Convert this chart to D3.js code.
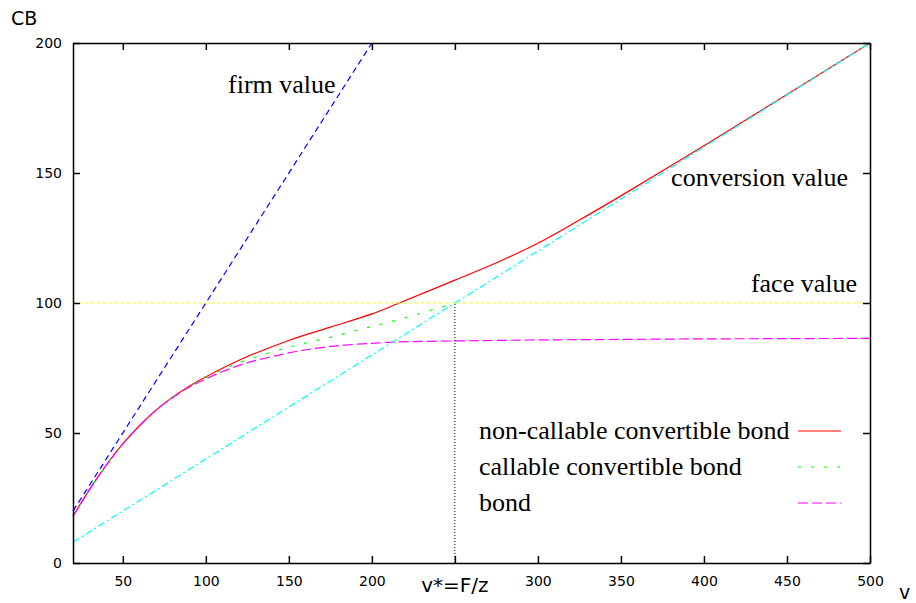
<!DOCTYPE html>
<head>
    <meta charset="utf-8">
    <script src="https://d3js.org/d3.v7.min.js"></script>
    <style>
      body { margin: 0; background: #fff; }
      .tick text { font-family: "DejaVu Sans"; font-size: 14px; fill: #000; }
      .serif { font-family: "Liberation Serif", "Times New Roman", serif; font-size: 26px; fill: #000; }
      .sans { font-family: "DejaVu Sans"; fill: #000; }
    </style>
<body>
    <script>
        var svg_w = 916, svg_h = 603
        var margin = {left: 73, right: 46, top: 43, bottom: 40}

        // data
        var vGrid     = [20, 30, 40, 50, 60, 70, 80, 90, 100, 120, 150, 175, 200, 215, 250, 275, 300, 325, 350, 400, 450, 500]
        var nonCall   = [18, 28.3, 37.6, 45.8, 52.8, 58.8, 63.8, 68, 71.6, 78, 85.6, 90.7, 95.8, 99.6, 108.8, 115.5, 123, 131.9, 141.2, 160.5, 180.2, 200]
        var bondVals  = [18, 28.3, 37.6, 45.8, 52.8, 58.8, 63.6, 67.6, 70.8, 76, 80.8, 83.3, 84.5, 85, 85.4, 85.6, 85.8, 85.9, 86, 86.2, 86.3, 86.4]
        var vCall     = [20, 30, 40, 50, 60, 70, 80, 90, 100, 120, 150, 175, 200, 215, 250]
        var callVals  = [18, 28.3, 37.6, 45.8, 52.8, 58.8, 63.8, 67.9, 71.3, 77, 83, 86.8, 91, 93.4, 100]
        var firmV     = [20, 200]
        var firmVals  = [20, 200]
        var convV     = [20, 500]
        var convVals  = [8, 200]
        var faceV     = [20, 500]
        var faceVals  = [100, 100]
        var vStar = 250, faceValue = 100

        var xTicks = [50, 100, 150, 200, 250, 300, 350, 400, 450, 500]
        var yTicks = [0, 50, 100, 150, 200]

        var svg = d3.select("body").append("svg")
          .attr("width", svg_w).attr("height", svg_h)

        var x = d3.scaleLinear().domain([20, 500]).range([margin.left, svg_w - margin.right])
        var y = d3.scaleLinear().domain([0, 200]).range([svg_h - margin.bottom, margin.top])

        function zip(xs, ys) { return xs.map(function(d, i) { return [d, ys[i]] }) }
        var line = d3.line().x(function(d){return x(d[0])}).y(function(d){return y(d[1])})
        var smooth = d3.line().x(function(d){return x(d[0])}).y(function(d){return y(d[1])}).curve(d3.curveCatmullRom.alpha(0.5))

        var series = [
          {pts: zip(vGrid, nonCall), color: "#ff0000", dash: null, gen: smooth},
          {pts: zip(vCall, callVals), color: "#00ff00", dash: "3,10", gen: smooth},
          {pts: zip(vGrid, bondVals), color: "#ff00ff", dash: "10,4", gen: smooth},
          {pts: zip(firmV, firmVals), color: "#0000ff", dash: "6,4", gen: line},
          {pts: zip(convV, convVals), color: "#00ffff", dash: "7,3,2,3", gen: line},
          {pts: zip(faceV, faceVals), color: "#ffff00", dash: "3.5,2.5", gen: line}
        ]
        series.forEach(function(s) {
          svg.append("path")
            .attr("d", s.gen(s.pts))
            .attr("fill", "none")
            .attr("stroke", s.color)
            .attr("stroke-width", 1.2)
            .attr("stroke-dasharray", s.dash)
        })

        // v* marker
        svg.append("line")
          .attr("x1", x(vStar)).attr("x2", x(vStar))
          .attr("y1", y(0)).attr("y2", y(faceValue))
          .attr("stroke", "#000").attr("stroke-width", 1)
          .attr("stroke-dasharray", "1,2")

        // axes, gnuplot style: ticks inward on all sides
        var gx = svg.append("g").attr("transform", "translate(0," + y(0) + ")")
          .call(d3.axisBottom(x).tickValues(xTicks).tickSizeInner(-7).tickSizeOuter(0)
            .tickFormat(function(d){ return d == vStar ? "" : d }))
        gx.selectAll(".tick text").attr("dy", "1.45em")
        svg.append("g").attr("transform", "translate(0," + y(200) + ")")
          .call(d3.axisTop(x).tickValues(xTicks).tickSizeInner(-7).tickSizeOuter(0).tickFormat(""))
        var gy = svg.append("g").attr("transform", "translate(" + x(20) + ",0)")
          .call(d3.axisLeft(y).tickValues(yTicks).tickSizeInner(-7).tickSizeOuter(0))
        gy.selectAll(".tick text").attr("x", -11)
        svg.append("g").attr("transform", "translate(" + x(500) + ",0)")
          .call(d3.axisRight(y).tickValues(yTicks).tickSizeInner(-7).tickSizeOuter(0).tickFormat(""))
        svg.selectAll(".domain, .tick line").attr("stroke", "#000").attr("stroke-width", 1.5)

        svg.append("text").attr("class", "sans").attr("x", x(vStar)).attr("y", 592)
          .attr("text-anchor", "middle").style("font-size", "20px").text("v*=F/z")
        svg.append("text").attr("class", "sans").attr("x", 899).attr("y", 599)
          .style("font-size", "19px").text("v")
        svg.append("text").attr("class", "sans").attr("x", 11).attr("y", 25)
          .style("font-size", "19px").text("CB")

        // curve labels
        svg.append("text").attr("class", "serif").attr("x", 228).attr("y", 93).text("firm value")
        svg.append("text").attr("class", "serif").attr("x", 848).attr("y", 186)
          .attr("text-anchor", "end").text("conversion value")
        svg.append("text").attr("class", "serif").attr("x", 857).attr("y", 292)
          .attr("text-anchor", "end").text("face value")

        // legend
        var legend = [
          {label: "non-callable convertible bond", color: "#ff0000", dash: null},
          {label: "callable convertible bond", color: "#00ff00", dash: "3,10"},
          {label: "bond", color: "#ff00ff", dash: "10,4"}
        ]
        legend.forEach(function(d, i) {
          var yy = 431 + i * 36
          svg.append("text").attr("class", "serif").attr("x", 479).attr("y", yy + 8).text(d.label)
          svg.append("line").attr("x1", 798).attr("x2", 841).attr("y1", yy).attr("y2", yy)
            .attr("stroke", d.color).attr("stroke-width", 1.2).attr("stroke-dasharray", d.dash)
        })
    </script>
</body>
